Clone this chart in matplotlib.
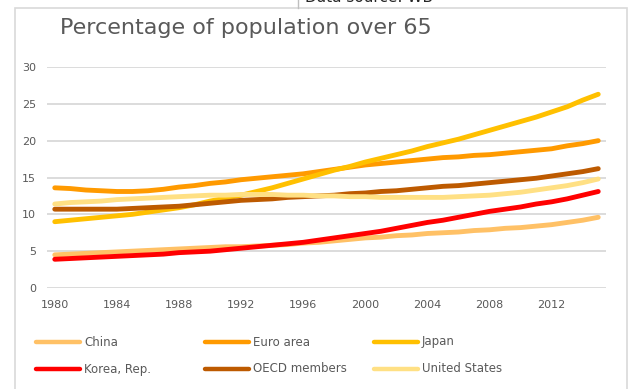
import numpy as np
import matplotlib.pyplot as plt
from matplotlib.lines import Line2D
from matplotlib.patches import Rectangle

years = np.arange(1980, 2016)

china = [4.5, 4.6, 4.7, 4.8, 4.9, 5.0, 5.1, 5.2, 5.3, 5.4, 5.5, 5.6, 5.6, 5.7, 5.8, 5.9, 6.1, 6.2,
         6.4, 6.6, 6.8, 6.9, 7.1, 7.2, 7.4, 7.5, 7.6, 7.8, 7.9, 8.1, 8.2, 8.4, 8.6, 8.9, 9.2, 9.6]
euro_area = [13.6, 13.5, 13.3, 13.2, 13.1, 13.1, 13.2, 13.4, 13.7, 13.9, 14.2, 14.4, 14.7, 14.9,
             15.1, 15.3, 15.5, 15.8, 16.1, 16.4, 16.7, 16.9, 17.1, 17.3, 17.5, 17.7, 17.8, 18.0,
             18.1, 18.3, 18.5, 18.7, 18.9, 19.3, 19.6, 20.0]
japan = [9.0, 9.2, 9.4, 9.6, 9.8, 10.0, 10.3, 10.6, 10.9, 11.3, 11.8, 12.2, 12.6, 13.1, 13.6, 14.2,
         14.8, 15.4, 16.0, 16.5, 17.1, 17.6, 18.1, 18.6, 19.2, 19.7, 20.2, 20.8, 21.4, 22.0, 22.6,
         23.2, 23.9, 24.6, 25.5, 26.3]
korea = [3.9, 4.0, 4.1, 4.2, 4.3, 4.4, 4.5, 4.6, 4.8, 4.9, 5.0, 5.2, 5.4, 5.6, 5.8, 6.0, 6.2, 6.5,
         6.8, 7.1, 7.4, 7.7, 8.1, 8.5, 8.9, 9.2, 9.6, 10.0, 10.4, 10.7, 11.0, 11.4, 11.7, 12.1,
         12.6, 13.1]
oecd = [10.7, 10.7, 10.7, 10.7, 10.7, 10.8, 10.9, 11.0, 11.1, 11.3, 11.5, 11.7, 11.9, 12.0, 12.1,
        12.3, 12.4, 12.5, 12.6, 12.8, 12.9, 13.1, 13.2, 13.4, 13.6, 13.8, 13.9, 14.1, 14.3, 14.5,
        14.7, 14.9, 15.2, 15.5, 15.8, 16.2]
united_states = [11.4, 11.6, 11.7, 11.8, 12.0, 12.1, 12.2, 12.3, 12.4, 12.5, 12.6, 12.6, 12.7,
                 12.7, 12.7, 12.6, 12.6, 12.5, 12.5, 12.4, 12.4, 12.3, 12.3, 12.3, 12.3, 12.3,
                 12.4, 12.5, 12.6, 12.8, 13.0, 13.3, 13.6, 13.9, 14.3, 14.8]

names = ["China", "Euro area", "Japan", "Korea, Rep.", "OECD members", "United States"]
series = [china, euro_area, japan, korea, oecd, united_states]
colors = ["#FFC166", "#FF9A00", "#FFC000", "#FF0000", "#BD5A00", "#FFE084"]

grey = "#595959"
W, H = 628, 389

fig = plt.figure(figsize=(W / 100, H / 100), dpi=100)

# chart frame and the bit of sheet above it
fig.add_artist(Rectangle((15 / W, -0.1), 612 / W, 1.1 - 8 / H, transform=fig.transFigure,
                         fill=False, edgecolor="#D9D9D9", linewidth=1.2))
fig.add_artist(Line2D([298 / W, 298 / W], [1 - 8 / H, 1], transform=fig.transFigure,
                      color="#BFBFBF", linewidth=1))
fig.text(305 / W, 1 - 2 / H, "Data source: WB", fontsize=11, color="#262626", va="baseline")

fig.text(60 / W, 1 - 28 / H, "Percentage of population over 65", fontsize=16,
         color=grey, va="center")

ax = fig.add_axes([47 / W, 1 - 288 / H, 559 / W, 221 / H])
for vals, c in zip(series, colors):
    ax.plot(years, vals, color=c, linewidth=3.5, solid_capstyle="round", solid_joinstyle="round")

ax.set_xlim(1979.5, 2015.5)
ax.set_ylim(0, 30)
ax.set_yticks(range(0, 31, 5))
ax.set_xticks(range(1980, 2013, 4))
ax.grid(axis="y", color="#D9D9D9", linewidth=1.3)
ax.set_axisbelow(True)
for s in ax.spines.values():
    s.set_visible(False)
ax.tick_params(length=0, labelsize=8, labelcolor=grey)
ax.tick_params(axis="y", pad=8)
ax.tick_params(axis="x", pad=9)

# legend, three columns by two rows
col_x = [36, 205, 374]
row_y = [342, 369]
for i, (name, c) in enumerate(zip(names, colors)):
    x0 = col_x[i % 3]
    y = 1 - row_y[i // 3] / H
    fig.add_artist(Line2D([x0 / W, (x0 + 44) / W], [y, y], transform=fig.transFigure,
                          color=c, linewidth=3.2, solid_capstyle="round"))
    fig.text((x0 + 48) / W, y, name, fontsize=8.5, color=grey, va="center")

fig.savefig("out.png", dpi=100)
